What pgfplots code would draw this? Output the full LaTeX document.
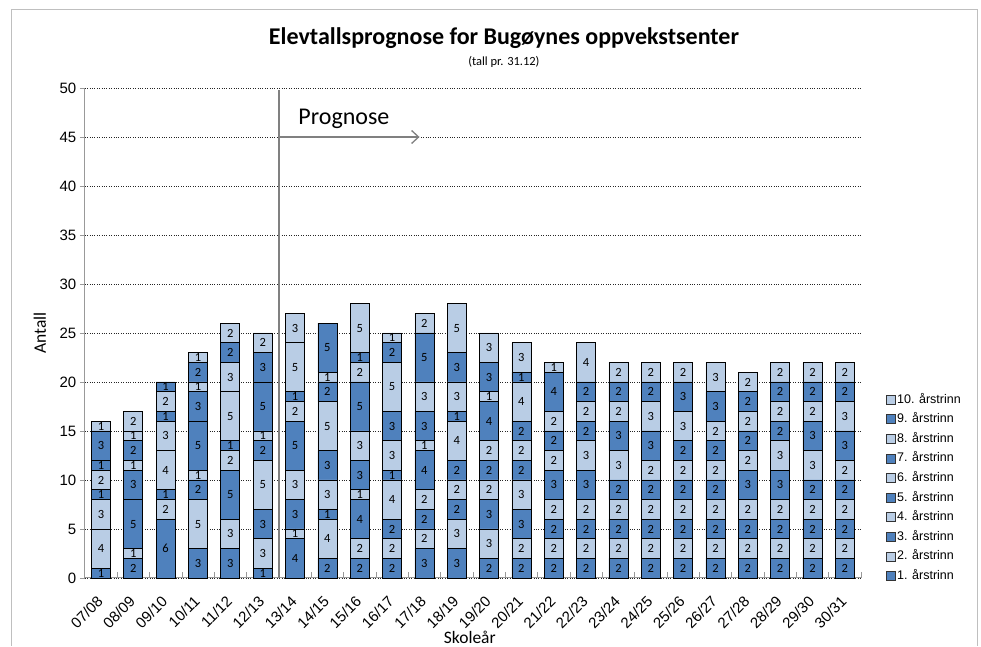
\documentclass[border=0pt]{standalone}
\usepackage{fontspec}
\setmainfont{Carlito}
\newfontfamily\arialf{Liberation Sans}
\usepackage{pgfplots}
\usepackage{pgfplotstable}
\pgfplotsset{compat=1.18}
\usetikzlibrary{arrows.meta}

\definecolor{dk}{HTML}{4F81BD}
\definecolor{lt}{HTML}{B9CDE5}

% elever per årstrinn, s1 = 1. årstrinn ... s10 = 10. årstrinn
\pgfplotstableread{
x  s1 s2 s3 s4 s5 s6 s7 s8 s9 s10 tot
0  1  4  0  3  1  2  1  0  3  1   16
1  2  1  5  0  3  1  2  1  0  2   17
2  6  2  1  4  0  3  1  2  1  0   20
3  3  5  2  1  5  0  3  1  2  1   23
4  3  3  5  2  1  5  0  3  2  2   26
5  1  3  3  5  2  1  5  0  3  2   25
6  4  1  3  3  5  2  1  5  0  3   27
7  2  4  1  3  3  5  2  1  5  0   26
8  2  2  4  1  3  3  5  2  1  5   28
9  2  2  2  4  1  3  3  5  2  1   25
10 3  2  2  2  4  1  3  3  5  2   27
11 3  3  2  2  2  4  1  3  3  5   28
12 2  3  3  2  2  2  4  1  3  3   25
13 2  2  3  3  2  2  2  4  1  3   24
14 2  2  2  2  3  2  2  2  4  1   22
15 2  2  2  2  3  3  2  2  2  4   24
16 2  2  2  2  2  3  3  2  2  2   22
17 2  2  2  2  2  2  3  3  2  2   22
18 2  2  2  2  2  2  2  3  3  2   22
19 2  2  2  2  2  2  2  2  3  3   22
20 2  2  2  2  3  2  2  2  2  2   21
21 2  2  2  2  3  3  2  2  2  2   22
22 2  2  2  2  2  3  3  2  2  2   22
23 2  2  2  2  2  2  3  3  2  2   22
}\data

\newcommand{\seg}[2]{\addplot[fill=#2, draw=black, line width=0.7pt] table[x=x, y=#1, meta=#1] {\data};}

\begin{document}
\begin{tikzpicture}
\begin{axis}[
  scale only axis,
  width=776.2pt, height=490pt,
  ybar stacked,
  bar width=19pt,
  xmin=-0.5, xmax=23.5,
  ymin=0, ymax=50,
  ytick={0,5,...,50},
  xtick={0,...,23},
  xticklabels={07/08,08/09,09/10,10/11,11/12,12/13,13/14,14/15,15/16,16/17,17/18,18/19,19/20,20/21,21/22,22/23,23/24,24/25,25/26,26/27,27/28,28/29,29/30,30/31},
  minor xtick={-0.5,0.5,...,23.5},
  major x tick style={draw=none},
  minor x tick style={draw=gray!80, line width=0.6pt},
  ytick style={draw=gray!80, line width=0.6pt},
  xtick align=inside, ytick align=outside,
  major tick length=5pt, minor tick length=6pt,
  axis x line*=bottom, axis y line*=left,
  axis line style={draw=gray!80, line width=1pt, -},
  ymajorgrids,
  major grid style={dotted, black!85, line width=0.6pt},
  /pgf/number format/assume math mode=true,
  ticklabel style={font=\arialf\fontsize{15}{15}\selectfont},
  xticklabel style={yshift=-12pt, xshift=-5pt, rotate=45, anchor=north east},
  ylabel={Antall}, xlabel={Skoleår},
  every axis y label/.style={at={(axis description cs:-0.058,0.5)}, rotate=90, anchor=center, font=\fontsize{17.5}{17.5}\selectfont},
  every axis x label/.style={at={(axis description cs:0.496,-0.1204)}, anchor=center, font=\fontsize{17.5}{17.5}\selectfont},
  point meta=explicit,
  nodes near coords,
  every node near coord/.style={anchor=center, inner sep=0pt, text=black, font=\fontsize{12.5}{12.5}\selectfont},
  reverse legend,
  legend style={at={(axis description cs:1.032,0.184)}, anchor=west, draw=none, fill=none,
    font=\arialf\fontsize{12.5}{12.5}\selectfont, row sep=7.6pt, inner sep=0pt,
    nodes={inner xsep=1.5pt, inner ysep=0pt, text height=9.5pt, text depth=2.5pt}},
  legend cell align=left,
  legend image code/.code={\draw[#1, draw=black!80, line width=0.6pt] (0pt,-4.5pt) rectangle (9pt,4.5pt);},
  clip=false,
]
\seg{s1}{dk}
\seg{s2}{lt}
\seg{s3}{dk}
\seg{s4}{lt}
\seg{s5}{dk}
\seg{s6}{lt}
\seg{s7}{dk}
\seg{s8}{lt}
\seg{s9}{dk}
\seg{s10}{lt}
\addplot[forget plot, draw=none, fill=none,
  every node near coord/.style={anchor=south, yshift=7pt, inner sep=0pt, text=black, font=\fontsize{12.5}{12.5}\selectfont}]
  table[x=x, y expr=0, meta=tot] {\data};
\legend{1. årstrinn,2. årstrinn,3. årstrinn,4. årstrinn,5. årstrinn,6. årstrinn,7. årstrinn,8. årstrinn,9. årstrinn,10. årstrinn}

% prognose-markering
\draw[gray, line width=2pt] (axis cs:5.5,0) -- (axis cs:5.5,49.8);
\draw[gray, line width=2pt, -{Straight Barb[length=7pt, width=13pt, line width=1.3pt]}] (axis cs:5.5,45) -- (axis cs:9.85,45);
\node[anchor=west, inner sep=0pt, font=\fontsize{24}{24}\selectfont] at (axis cs:6.1,46.9) {Prognose};

% tittel
\node[font=\bfseries\fontsize{24}{24}\selectfont] at (axis description cs:0.540,1.102) {Elevtallsprognose for Bugøynes oppvekstsenter};
\node[font=\fontsize{12.5}{12.5}\selectfont] at (axis description cs:0.540,1.053) {(tall pr. 31.12)};

% ramme og sidestørrelse
\draw[black!25, line width=1pt] (axis description cs:-0.0938,-0.13878) -- (axis description cs:-0.0938,1.1592) -- (axis description cs:1.1495,1.1592) -- (axis description cs:1.1495,-0.13878);
\path (axis description cs:-0.10925,-0.13878) rectangle (axis description cs:1.15461,1.17959);
\end{axis}
\end{tikzpicture}
\end{document}
